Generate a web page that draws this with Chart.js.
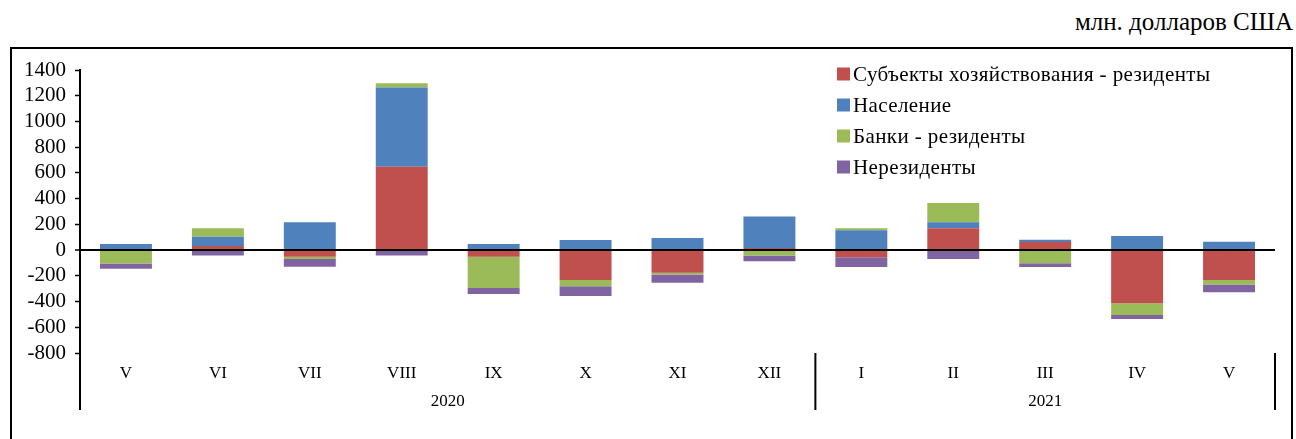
<!DOCTYPE html>
<html lang="ru">
<head>
<meta charset="utf-8">
<title>Чистая покупка валюты</title>
<script src="https://cdn.jsdelivr.net/npm/chart.js@4.4.1/dist/chart.umd.min.js"></script>
<style>
  html, body {
    margin: 0;
    padding: 0;
    background: #fff;
    overflow: hidden;
  }

  #wrap {
    position: relative;
    width: 1296px;
    height: 439px;
  }

  #chart {
    position: absolute;
    left: 0;
    top: 0;
  }

  .frame {
    position: absolute;
    left: 10px;
    top: 47px;
    width: 1283px;
    height: 420px;
    box-sizing: border-box;
    border: 2px solid #000;
    pointer-events: none;
  }

  .units {
    position: absolute;
    right: 3px;
    top: 8px;
    font-family: 'Liberation Serif', 'Times New Roman', serif;
    font-size: 25px;
    color: #000;
  }
</style>
</head>
<body>
<div id="wrap">
  <div class="units">млн. долларов США</div>
  <div class="frame"></div>
  <canvas id="chart" width="1296" height="439"></canvas>
</div>

<script>
const months = ['V', 'VI', 'VII', 'VIII', 'IX', 'X', 'XI', 'XII', 'I', 'II', 'III', 'IV', 'V'];
const years = ['2020', '2021'];
const yearFirstIndex = [0, 8];
const yearLastIndex = [7, 12];

const firms = [0, 31, -52, 648, -52, -232, -177, 16, -55, 169, 62, -414, -232];
const households = [47, 73, 216, 615, 47, 78, 94, 245, 154, 47, 18, 109, 65];
const banks = [-104, 65, -18, 34, -242, -49, -13, -42, 16, 151, -102, -91, -36];
const nonResidents = [-42, -42, -60, -42, -47, -76, -63, -44, -76, -70, -29, -31, -60];

const seriesNames = [
  'Субъекты хозяйствования - резиденты',
  'Население',
  'Банки - резиденты',
  'Нерезиденты',
];
const seriesColors = ['#C0504D', '#4F81BD', '#9BBB59', '#8064A2'];

const FONT = "'Liberation Serif', 'Times New Roman', serif";

/* -------------------- */
/* legend + year row */
/* -------------------- */

const extras = {
  id: 'extras',
  afterDraw(chart) {
    const { ctx, chartArea, scales } = chart;
    const x = scales.x;

    ctx.save();

    // separators under the category row
    ctx.strokeStyle = '#000';
    ctx.lineWidth = 2;
    const bottom = chartArea.bottom;
    const sepBottom = 410;
    const step = x.getPixelForValue(1) - x.getPixelForValue(0);
    const first = x.getPixelForValue(0) - step / 2;
    const seps = [first, first + step * 8, first + step * months.length];
    seps.forEach((sx) => {
      ctx.beginPath();
      ctx.moveTo(sx, bottom);
      ctx.lineTo(sx, sepBottom);
      ctx.stroke();
    });

    // year labels
    ctx.fillStyle = '#000';
    ctx.font = `17px ${FONT}`;
    ctx.textAlign = 'center';
    ctx.textBaseline = 'middle';
    years.forEach((year, i) => {
      const cx = (x.getPixelForValue(yearFirstIndex[i]) + x.getPixelForValue(yearLastIndex[i])) / 2;
      ctx.fillText(year, cx, 402);
    });

    // legend
    ctx.font = `21px ${FONT}`;
    ctx.letterSpacing = '0.4px';
    ctx.textAlign = 'left';
    chart.data.datasets.forEach((ds, i) => {
      const cy = 74 + i * 31;
      ctx.fillStyle = ds.backgroundColor;
      ctx.fillRect(837, cy - 6.5, 13, 13);
      ctx.fillStyle = '#000';
      ctx.fillText(ds.label, 853, cy + 1);
    });

    ctx.restore();
  },
};

const datasets = [firms, households, banks, nonResidents].map((values, i) => ({
  label: seriesNames[i],
  data: values,
  backgroundColor: seriesColors[i],
  borderWidth: 0,
  barPercentage: 0.565,
  categoryPercentage: 1,
}));

new Chart(document.querySelector('#chart'), {
  type: 'bar',
  data: {
    labels: months,
    datasets,
  },
  plugins: [extras],

  options: {
    responsive: false,
    animation: false,
    devicePixelRatio: 1,

    layout: {
      padding: { left: 0, top: 70, right: 21, bottom: 0 },
    },

    plugins: {
      legend: { display: false },
      tooltip: { enabled: false },
    },

    scales: {
      x: {
        stacked: true,
        grid: { display: false, drawTicks: false },
        border: { display: false },
        ticks: {
          color: '#000',
          font: { family: FONT, size: 17 },
          padding: 10,
          maxRotation: 0,
          autoSkip: false,
        },
        afterFit(scale) {
          scale.height = 86;
        },
      },

      y: {
        stacked: true,
        min: -800,
        max: 1400,
        ticks: {
          stepSize: 200,
          autoSkip: false,
          color: '#000',
          font: { family: FONT, size: 21 },
          padding: 9,
          callback(value) {
            return String(value);
          },
        },
        grid: {
          drawOnChartArea: true,
          tickLength: 5,
          tickColor: '#000',
          tickWidth: 1.5,
          color(context) {
            return context.tick && context.tick.value === 0 ? '#000' : 'rgba(0,0,0,0)';
          },
          lineWidth(context) {
            return context.tick && context.tick.value === 0 ? 2 : 1;
          },
        },
        border: {
          display: true,
          color: '#000',
          width: 2,
        },
        afterFit(scale) {
          scale.width = 80;
        },
      },
    },
  },
});
</script>
</body>
</html>
